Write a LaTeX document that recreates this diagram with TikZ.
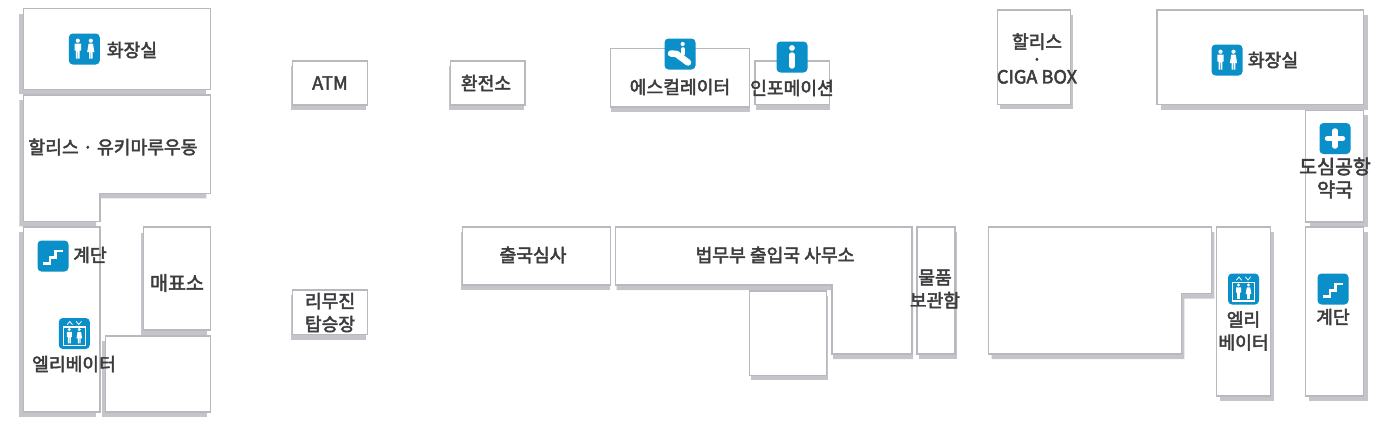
\documentclass[tikz,border=0pt]{standalone}
\usepackage{fontspec}
\usepackage{xcolor}
\setmainfont{Noto Sans CJK KR}[FakeBold=2.6]
\definecolor{wall}{HTML}{B8B8BE}
\definecolor{shadowgrey}{HTML}{C4C4CA}
\definecolor{ink}{HTML}{3C3C3E}
\definecolor{sign}{HTML}{0A8FC8}
\newcommand{\room}[2]{%
  \fill[shadowgrey,shift={(#1)}] #2;
  \draw[wall,fill=white,line width=1.5pt,line join=miter] #2;
}
\tikzset{
  lab/.style={text=ink, font=\fontsize{18.2}{23}\selectfont, align=center, inner sep=0pt},
  biglab/.style={lab, font=\fontsize{19.5}{23}\selectfont},
  back/.style={fill=sign, rounded corners=4pt},
  wline/.style={draw=white, line cap=round, line join=miter},
  man/.pic={
    \fill[white] (0,-8.3) circle (2.1);
    \fill[white] (-3.2,-5.4) -- (3.2,-5.4) -- (3.2,1.5) -- (1.9,1.5) -- (1.9,9.5) -- (0.3,9.5) -- (0.3,2.5)
      -- (-0.3,2.5) -- (-0.3,9.5) -- (-1.9,9.5) -- (-1.9,1.5) -- (-3.2,1.5) -- cycle;
  },
  woman/.pic={
    \fill[white] (0,-8.3) circle (2.1);
    \fill[white] (-2.2,-5.4) -- (2.2,-5.4) -- (3.6,3) -- (1.8,3) -- (1.8,9.5) -- (0.3,9.5) -- (0.3,3)
      -- (-0.3,3) -- (-0.3,9.5) -- (-1.8,9.5) -- (-1.8,3) -- (-3.6,3) -- cycle;
  },
  wcsign/.pic={
    \path[back] (-15.5,-15.5) rectangle (15.5,15.5);
    \pic at (-6.5,0) {man};
    \pic at (6.5,0) {woman};
  },
  liftsign/.pic={
    \path[back] (-15.5,-15.5) rectangle (15.5,15.5);
    \draw[wline,line width=1.1pt] (-11,-6.5) rectangle (11,12);
    \draw[wline,line width=0.8pt] (-7,-9) -- (-4.5,-12) -- (-2,-9);
    \draw[wline,line width=0.8pt] (2,-12) -- (4.5,-9) -- (7,-12);
    \pic[scale=0.78] at (-5,2.5) {man};
    \pic[scale=0.78] at (5,2.5) {woman};
  },
  stairsign/.pic={
    \path[back] (-15.5,-15.5) rectangle (15.5,15.5);
    \draw[wline,line width=2.8pt,line cap=butt] (-10,7.5) -- (-3,7.5) -- (-3,1.5) -- (2.5,1.5) -- (2.5,-5) -- (10,-5);
  },
  plussign/.pic={
    \path[back] (-15.5,-15.5) rectangle (15.5,15.5);
    \draw[wline,line width=5.5pt] (-7.5,0) -- (7.5,0);
    \draw[wline,line width=5.5pt] (0,-7.5) -- (0,7.5);
  },
  infosign/.pic={
    \path[back] (-15.5,-15.5) rectangle (15.5,15.5);
    \fill[white] (0,-9) circle (2.9);
    \draw[wline,line width=5.4pt] (0,-2) -- (0,9);
  },
  escalsign/.pic={
    \path[back] (-15.5,-15.5) rectangle (15.5,15.5);
    \fill[white] (2.7,-10) circle (2.1);
    \draw[wline,line width=3.6pt] (2.7,-5) -- (2.7,0);
    \draw[wline,line width=6.5pt] (-9,-0.5) -- (-3.5,0) -- (8,8.5);
  },
}
\begin{document}
\begin{tikzpicture}[x=1pt,y=-1pt]
  \useasboundingbox (0,0) rectangle (1400,421);

  % left block
  \room{-4,5}{(23.3,8.7) rectangle (210.3,89.3)}
  \room{-4,5}{(23.3,95) -- (210.3,95) -- (210.3,193.3) -- (100,193.3) -- (100,221.3) -- (23.3,221.3) -- cycle}
  \room{-4,5}{(23.3,227) rectangle (100,412)}
  \room{-3,5.5}{(143.7,227) rectangle (210.3,330)}
  \room{-3.5,5}{(105.7,336) rectangle (210.3,412)}

  % small booths
  \room{-2,5}{(292.7,61) rectangle (367.5,105)}
  \room{-1.5,5}{(450.3,61) rectangle (525,105)}
  \room{-2,5}{(292.7,290) rectangle (367.5,334.7)}
  \room{0.5,5.3}{(610.3,48.7) rectangle (749.3,107)}
  \room{0.5,5.3}{(755,61) rectangle (829.7,104.7)}
  \room{2,5}{(997.7,10) rectangle (1070.7,104.3)}

  % middle row
  \room{-1,5}{(462.3,227) rectangle (610.7,285)}
  \room{1,5}{(615.7,227) -- (912,227) -- (912,354) -- (832,354) -- (832,285) -- (615.7,285) -- cycle}
  \room{1,5}{(749.7,291) rectangle (826.7,375.3)}
  \room{1.5,5}{(917,227) rectangle (955,354)}
  \room{3,5}{(988.7,227) -- (1211.3,227) -- (1211.3,293.7) -- (1181.3,293.7) -- (1181.3,354) -- (988.7,354) -- cycle}

  % right block
  \room{3.5,5}{(1216.7,227) rectangle (1270.3,396)}
  \room{4,5}{(1305.7,110) rectangle (1363.7,222)}
  \room{4,5}{(1305.3,227) rectangle (1363.7,396)}
  \room{4,5}{(1157,10) rectangle (1363.7,104.7)}

  % signs
  \pic at (84.3,49) {wcsign};
  \pic at (53,256) {stairsign};
  \pic at (74.3,333.5) {liftsign};
  \pic at (680,54) {escalsign};
  \pic at (792,57) {infosign};
  \pic at (1227,60) {wcsign};
  \pic at (1335,138.5) {plussign};
  \pic at (1243.5,289) {liftsign};
  \pic at (1333,289) {stairsign};

  % labels
  \node[lab] (wcL) at (132,50) {화장실};
  \node[lab] (cafeL) at (113,147) {할리스 · 유키마루우동};
  \node[lab] (stairL) at (90,255) {계단};
  \node[biglab] (ticket) at (177,283) {매표소};
  \node[lab] (liftL) at (74,364) {엘리베이터};
  \node[lab] (atm) at (330,83) {ATM};
  \node[lab] (exch) at (486,83) {환전소};
  \node[lab] (bus) at (330,312.5) {리무진\\탑승장};
  \node[lab] (escal) at (680,87) {에스컬레이터};
  \node[lab] (info) at (792,88) {인포메이션};
  \node[lab,font=\fontsize{18.2}{17.5}\selectfont] (cafeR) at (1037,58.5) {할리스\\·\\CIGA BOX};
  \node[lab] (wcR) at (1273,60) {화장실};
  \node[biglab] (pharm) at (1335,178) {도심공항\\약국};
  \node[lab] (emig) at (533,255) {출국심사};
  \node[lab] (immi) at (775,255) {법무부 출입국 사무소};
  \node[lab] (locker) at (935,289) {물품\\보관함};
  \node[lab] (liftR) at (1243.5,331) {엘리\\베이터};
  \node[lab] (stairR) at (1333,317) {계단};
\end{tikzpicture}
\end{document}
